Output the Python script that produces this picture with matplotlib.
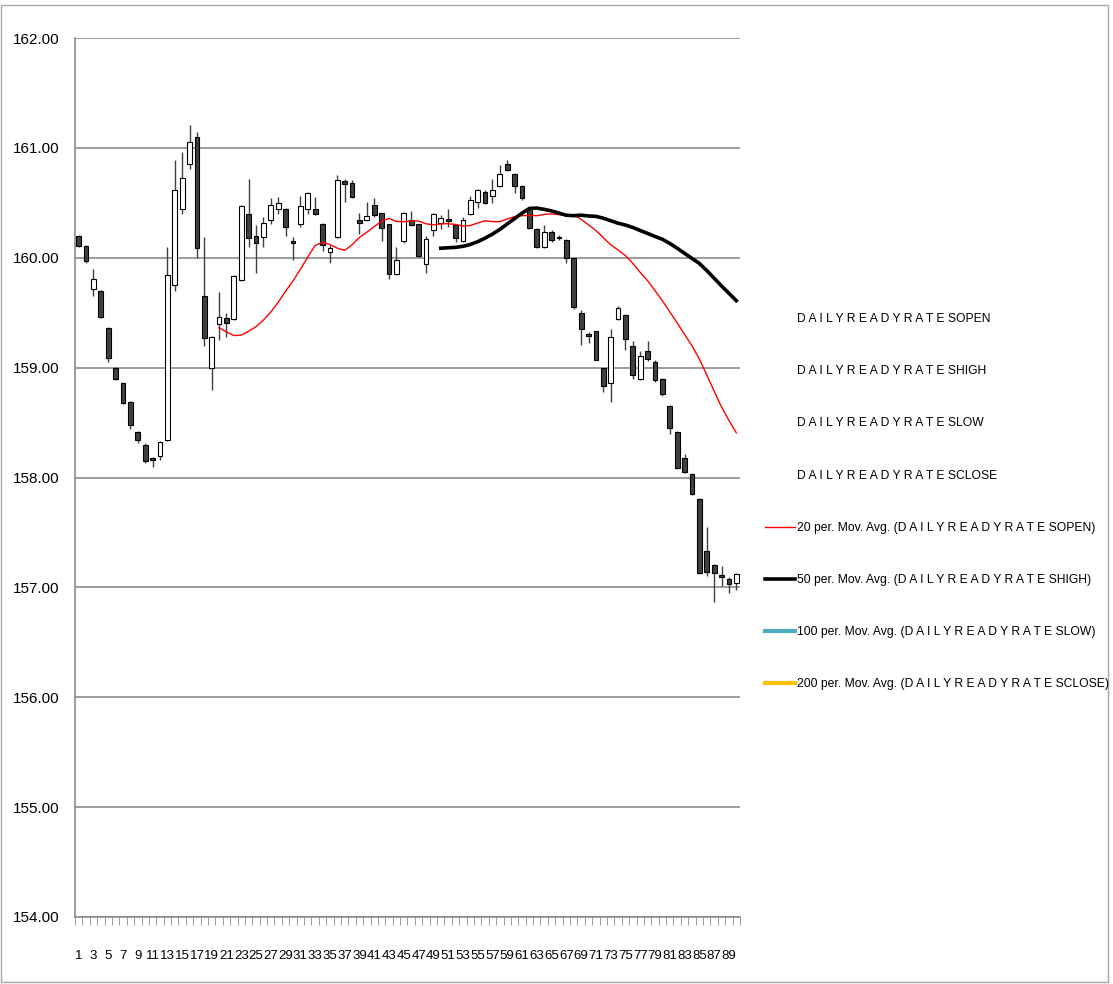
import numpy as np
import pandas as pd
import matplotlib
matplotlib.use("Agg")
import matplotlib.pyplot as plt
from matplotlib.lines import Line2D
from matplotlib.patches import Rectangle

plt.rcParams['font.family'] = ['Liberation Sans', 'DejaVu Sans']

# OHLC data (90 trading days)
opens = [160.20, 160.11, 159.72, 159.70, 159.36, 159.00, 158.86, 158.69, 158.41, 158.30,
         158.18, 158.20, 158.34, 159.75, 160.44, 160.85, 161.10, 159.65, 159.00, 159.40,
         159.45, 159.44, 159.80, 160.40, 160.20, 160.19, 160.34, 160.44, 160.44, 160.15,
         160.31, 160.44, 160.44, 160.31, 160.05, 160.19, 160.70, 160.68, 160.34, 160.34,
         160.48, 160.41, 160.31, 159.85, 160.15, 160.34, 160.31, 159.94, 160.25, 160.32,
         160.35, 160.30, 160.15, 160.40, 160.51, 160.60, 160.56, 160.65, 160.85, 160.76,
         160.65, 160.45, 160.26, 160.10, 160.23, 160.19, 160.16, 160.00, 159.50, 159.31,
         159.33, 159.00, 158.86, 159.44, 159.48, 159.20, 158.90, 159.15, 159.05, 158.90,
         158.65, 158.41, 158.18, 158.03, 157.80, 157.33, 157.20, 157.11, 157.08, 157.04]
highs = [160.21, 160.12, 159.90, 159.71, 159.37, 159.01, 158.87, 158.70, 158.42, 158.31,
         158.19, 158.33, 160.10, 160.89, 160.96, 161.21, 161.14, 160.19, 159.29, 159.69,
         159.50, 159.84, 160.48, 160.72, 160.30, 160.37, 160.54, 160.55, 160.45, 160.19,
         160.56, 160.60, 160.55, 160.32, 160.12, 160.75, 160.72, 160.71, 160.41, 160.51,
         160.54, 160.41, 160.31, 160.10, 160.42, 160.43, 160.31, 160.20, 160.41, 160.39,
         160.44, 160.30, 160.37, 160.56, 160.63, 160.62, 160.72, 160.84, 160.89, 160.77,
         160.66, 160.46, 160.27, 160.30, 160.25, 160.21, 160.17, 160.00, 159.52, 159.32,
         159.33, 159.00, 159.35, 159.56, 159.49, 159.24, 159.15, 159.24, 159.07, 158.91,
         158.66, 158.42, 158.21, 158.04, 157.81, 157.55, 157.21, 157.19, 157.09, 157.13]
lows = [160.10, 159.95, 159.65, 159.45, 159.05, 158.89, 158.67, 158.44, 158.31, 158.13,
        158.10, 158.16, 158.33, 159.70, 160.40, 160.81, 160.00, 159.20, 158.80, 159.25,
        159.28, 159.43, 159.79, 160.10, 159.86, 160.10, 160.31, 160.40, 160.20, 159.98,
        160.28, 160.40, 160.39, 160.06, 159.95, 160.18, 160.51, 160.54, 160.22, 160.33,
        160.37, 160.15, 159.81, 159.84, 160.13, 160.29, 160.01, 159.86, 160.20, 160.26,
        160.28, 160.14, 160.14, 160.39, 160.45, 160.49, 160.50, 160.64, 160.79, 160.59,
        160.53, 160.26, 160.09, 160.09, 160.14, 160.16, 159.95, 159.53, 159.21, 159.22,
        159.07, 158.78, 158.69, 159.43, 159.16, 158.90, 158.89, 159.06, 158.87, 158.74,
        158.40, 158.08, 158.04, 157.84, 157.12, 157.10, 156.87, 157.01, 156.95, 156.98]
closes = [160.11, 159.97, 159.81, 159.46, 159.09, 158.90, 158.68, 158.48, 158.34, 158.15,
          158.16, 158.32, 159.84, 160.62, 160.73, 161.05, 160.09, 159.27, 159.28, 159.46,
          159.41, 159.83, 160.47, 160.18, 160.13, 160.32, 160.48, 160.50, 160.28, 160.13,
          160.47, 160.59, 160.40, 160.12, 160.09, 160.71, 160.67, 160.55, 160.32, 160.38,
          160.39, 160.27, 159.85, 159.98, 160.41, 160.30, 160.02, 160.17, 160.40, 160.36,
          160.33, 160.18, 160.34, 160.53, 160.62, 160.50, 160.62, 160.76, 160.80, 160.65,
          160.54, 160.27, 160.10, 160.23, 160.16, 160.18, 160.00, 159.55, 159.35, 159.29,
          159.07, 158.83, 159.28, 159.54, 159.26, 158.93, 159.11, 159.08, 158.89, 158.76,
          158.45, 158.09, 158.05, 157.85, 157.13, 157.14, 157.13, 157.09, 157.03, 157.12]

series_name = "D A I L Y R E A D Y R A T E S"
legend_labels = [series_name + "OPEN", series_name + "HIGH", series_name + "LOW", series_name + "CLOSE",
                 "20 per. Mov. Avg. (" + series_name + "OPEN)",
                 "50 per. Mov. Avg. (" + series_name + "HIGH)",
                 "100 per. Mov. Avg. (" + series_name + "LOW)",
                 "200 per. Mov. Avg. (" + series_name + "CLOSE)"]

df = pd.DataFrame({"open": opens, "high": highs, "low": lows, "close": closes})
df["day"] = np.arange(1, len(df) + 1)
ma20 = df["open"].rolling(20).mean()
ma50 = df["high"].rolling(50).mean()

fig = plt.figure(figsize=(11.13, 9.84), dpi=100)
ax = fig.add_axes([75 / 1113, 67 / 984, 665 / 1113, 879 / 984])

# wicks
ax.vlines(df["day"], df["low"], df["high"], color="#404040", linewidth=1.0, zorder=2)

# bodies
up = df["close"] >= df["open"]
bottom = np.minimum(df["open"], df["close"])
height = np.maximum(np.abs(df["close"] - df["open"]), 0.008)
colors = np.where(up, "white", "#404040")
ax.bar(df["day"], height, bottom=bottom, width=0.65, color=colors,
       edgecolor="black", linewidth=0.8, zorder=3)

ax.plot(df["day"], ma20, color="#ff0000", linewidth=1.0, zorder=4)
ax.plot(df["day"], ma50, color="black", linewidth=2.6, zorder=4)

ax.set_ylim(154, 162)
ax.set_xlim(0.5, len(df) + 0.5)
ax.set_yticks(np.arange(154, 163, 1))
ax.set_yticklabels([f"{v:.2f}" for v in np.arange(154, 163, 1)])
ax.grid(axis="y", color="#8c8c8c", linewidth=1.2, zorder=0)
ax.set_axisbelow(True)

ax.set_xticks(df["day"][::2])
ax.set_xticklabels([str(d) for d in df["day"][::2]])
ax.set_xticks(np.arange(0.5, len(df) + 1, 1), minor=True)
ax.tick_params(axis="x", which="major", length=0, pad=24, labelsize=9.5)
ax.tick_params(axis="x", which="minor", length=6, color="#8c8c8c", direction="out")
ax.tick_params(axis="y", length=0, pad=11, labelsize=11)

for side in ["top", "right"]:
    ax.spines[side].set_visible(False)
ax.spines["left"].set_color("#8c8c8c")
ax.spines["bottom"].set_color("#8c8c8c")
ax.spines["left"].set_linewidth(1.2)
ax.spines["bottom"].set_linewidth(1.2)

handles = [Line2D([], [], linestyle="none") for _ in range(4)]
handles += [Line2D([], [], color="#ff0000", linewidth=1.0),
            Line2D([], [], color="black", linewidth=2.6),
            Line2D([], [], color="#4bacc6", linewidth=3.0),
            Line2D([], [], color="#ffc000", linewidth=3.0)]
fig.legend(handles, legend_labels, loc="upper left", bbox_to_anchor=(760 / 1113, 1 - 308 / 984),
           frameon=False, fontsize=8.7, labelspacing=3.33, handlelength=2.5, handletextpad=0.2,
           borderaxespad=0)

fig.patches.append(Rectangle((1 / 1113, 2 / 984), 1107 / 1113, 977 / 984, transform=fig.transFigure,
                             fill=False, edgecolor="#a6a6a6", linewidth=1.0))

fig.savefig("out.png", dpi=100)
